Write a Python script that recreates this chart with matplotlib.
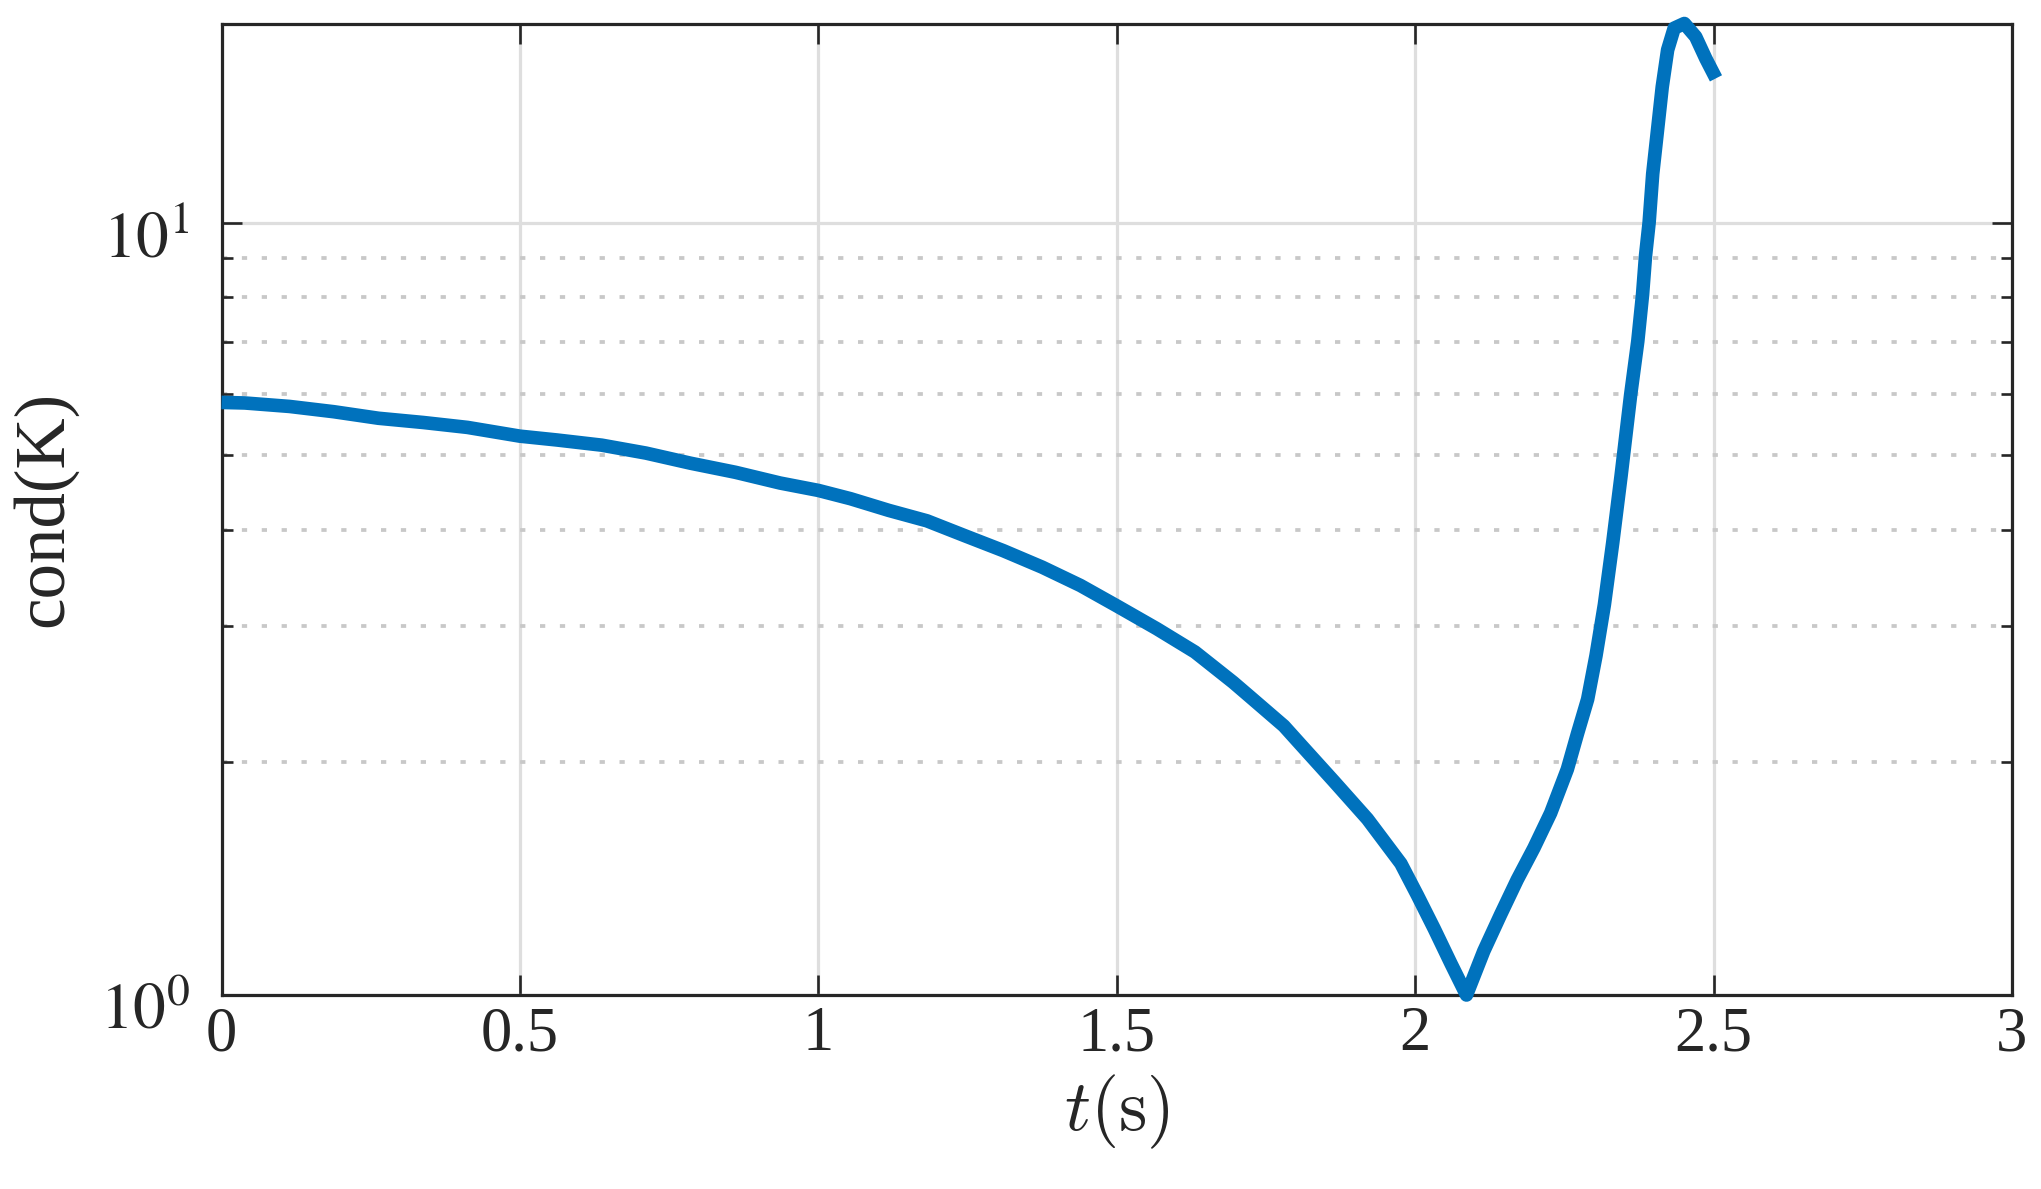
import matplotlib
matplotlib.use("Agg")
import matplotlib.pyplot as plt
from matplotlib.ticker import FixedLocator, FixedFormatter, LogLocator, NullFormatter, NullLocator
from matplotlib.transforms import ScaledTranslation

# ---- data ----
t = [0.000, 0.039, 0.114, 0.188, 0.263, 0.338, 0.412, 0.500, 0.562, 0.637,
     0.711, 0.786, 0.861, 0.936, 1.000, 1.054, 1.118, 1.182, 1.246, 1.310,
     1.375, 1.439, 1.500, 1.567, 1.631, 1.695, 1.724, 1.780, 1.808, 1.864,
     1.920, 1.976, 2.004, 2.032, 2.060, 2.086, 2.115, 2.143, 2.171, 2.199,
     2.227, 2.255, 2.272, 2.289, 2.303, 2.317, 2.331, 2.345, 2.361, 2.373,
     2.381, 2.386, 2.392, 2.398, 2.406, 2.414, 2.423, 2.434, 2.451, 2.470,
     2.487, 2.504]
cond_K = [5.85, 5.84, 5.78, 5.69, 5.58, 5.51, 5.43, 5.29, 5.23, 5.15,
          5.03, 4.88, 4.75, 4.60, 4.50, 4.39, 4.24, 4.11, 3.93, 3.76,
          3.58, 3.39, 3.19, 2.98, 2.78, 2.54, 2.43, 2.23, 2.11, 1.89,
          1.69, 1.48, 1.345, 1.218, 1.098, 1.000, 1.14, 1.27, 1.41, 1.55,
          1.72, 1.96, 2.18, 2.415, 2.75, 3.20, 3.85, 4.70, 5.98, 7.02,
          8.07, 9.06, 10.0, 11.56, 13.16, 14.99, 16.73, 17.85, 18.1, 17.4,
          16.3, 15.37]

x_ticks = [0, 0.5, 1, 1.5, 2, 2.5, 3]
x_tick_labels = ["0", "0.5", "1", "1.5", "2", "2.5", "3"]
y_ticks = [1, 10]
y_tick_labels = [r"$10^{0}$", r"$10^{1}$"]
x_label = r"$t(\mathrm{s})$"
y_label = "cond(K)"

# ---- style ----
plt.rcParams["font.family"] = ["Liberation Serif", "DejaVu Serif"]
plt.rcParams["mathtext.fontset"] = "stix"

W, H = 2041, 1189
fig = plt.figure(figsize=(W / 100, H / 100), dpi=100)
left, right, top, bottom = 221.5, 2012, 23.5, 995
ax = fig.add_axes([left / W, 1 - bottom / H, (right - left) / W, (bottom - top) / H])

spine_col = "#262626"
ax.plot(t, cond_K, color="#0072BD", lw=9.8, solid_capstyle="butt",
        solid_joinstyle="round", clip_on=False, zorder=4)

ax.set_yscale("log")
ax.set_xlim(0, 3)
ax.set_ylim(1.0, 18.1)

ax.xaxis.set_major_locator(FixedLocator(x_ticks))
ax.xaxis.set_major_formatter(FixedFormatter(x_tick_labels))
ax.xaxis.set_minor_locator(NullLocator())
ax.yaxis.set_major_locator(FixedLocator(y_ticks))
ax.yaxis.set_major_formatter(FixedFormatter(y_tick_labels))
ax.yaxis.set_minor_locator(LogLocator(base=10, subs=[2, 3, 4, 5, 6, 7, 8, 9]))
ax.yaxis.set_minor_formatter(NullFormatter())

for sp in ax.spines.values():
    sp.set_color(spine_col)
    sp.set_linewidth(2.3)

ax.tick_params(which="both", direction="in", top=True, right=True,
               color=spine_col, width=1.9)
ax.tick_params(which="major", length=14.5)
ax.tick_params(which="minor", length=8)
ax.tick_params(axis="x", which="major", labelsize=45, pad=8, labelcolor=spine_col)
ax.tick_params(axis="y", which="major", labelsize=47, pad=23, labelcolor=spine_col)

# MATLAB places the "10" part of the exponent labels slightly below the tick
for lab in ax.get_yticklabels():
    lab.set_transform(lab.get_transform() + ScaledTranslation(0, -8 / 72, fig.dpi_scale_trans))

ax.set_axisbelow(True)
ax.grid(True, which="major", axis="both", color="#dedede", lw=2.3, ls="-")
ax.grid(True, which="minor", axis="y", color="#c8c8c8", lw=2.7, ls=(0, (1.4, 3.9)))

xl = ax.set_xlabel(x_label, fontsize=52, color=spine_col, labelpad=6)
xl.set_math_fontfamily("cm")
ax.set_ylabel(y_label, fontsize=51, color=spine_col, labelpad=16)

fig.savefig("out.png", dpi=100, facecolor="white")
